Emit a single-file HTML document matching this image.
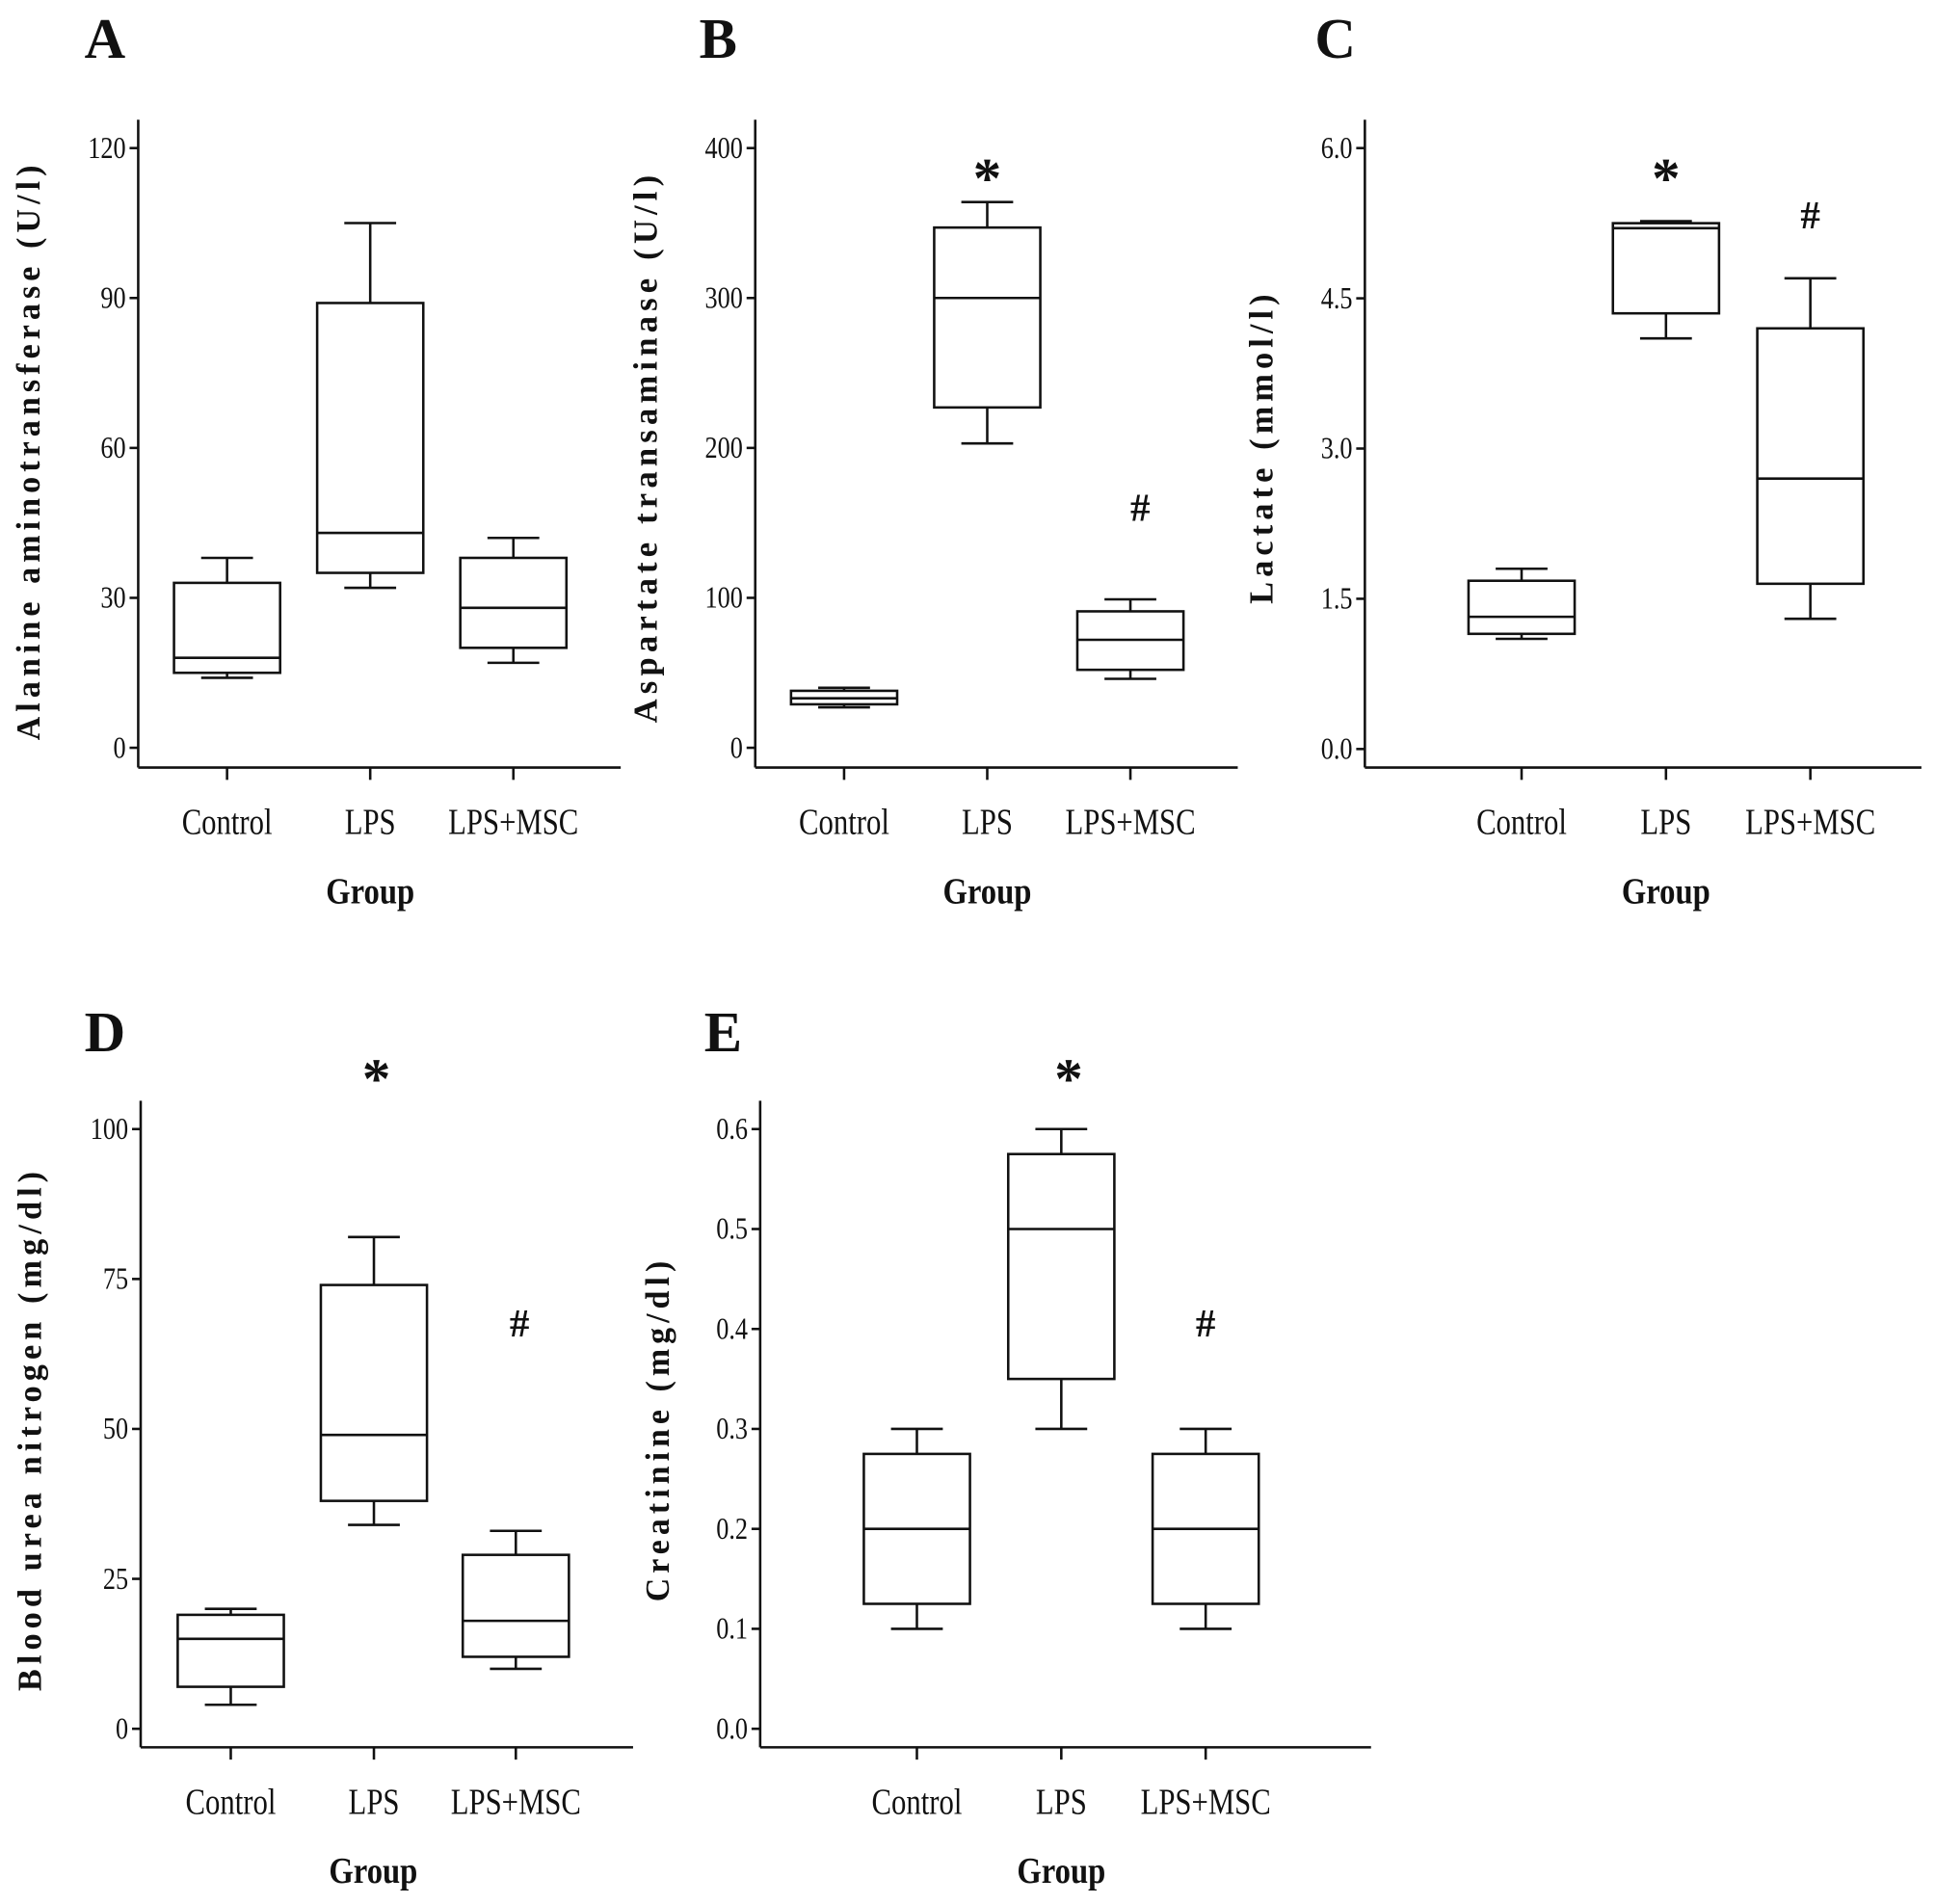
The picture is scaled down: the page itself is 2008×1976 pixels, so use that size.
<!DOCTYPE html>
<html><head><meta charset="utf-8">
<style>
html,body{margin:0;padding:0;background:#fff;}
svg{display:block;}
text{font-family:"Liberation Serif",serif;fill:#111;}
</style></head>
<body>
<svg id="fig" width="2008" height="1976" viewBox="0 0 1568 1543" xmlns="http://www.w3.org/2000/svg"></svg>
<script>
const categories = ["Control", "LPS", "LPS+MSC"];
// Panel A: ALT (U/l)
const aMin = [14, 32, 17];
const aQ1 = [15, 35, 20];
const aMed = [18, 43, 28];
const aQ3 = [33, 89, 38];
const aMax = [38, 105, 42];
const aTicks = [0, 30, 60, 90, 120];
// Panel B: AST (U/l)
const bMin = [27, 203, 46];
const bQ1 = [29, 227, 52];
const bMed = [33, 300, 72];
const bQ3 = [38, 347, 91];
const bMax = [40, 364, 99];
const bTicks = [0, 100, 200, 300, 400];
// Panel C: Lactate
const cMin = [1.1, 4.1, 1.3];
const cQ1 = [1.15, 4.35, 1.65];
const cMed = [1.32, 5.2, 2.7];
const cQ3 = [1.68, 5.25, 4.2];
const cMax = [1.8, 5.27, 4.7];
const cTicks = [0.0, 1.5, 3.0, 4.5, 6.0];
// Panel D: BUN
const dMin = [4, 34, 10];
const dQ1 = [7, 38, 12];
const dMed = [15, 49, 18];
const dQ3 = [19, 74, 29];
const dMax = [20, 82, 33];
const dTicks = [0, 25, 50, 75, 100];
// Panel E: Creatinine
const eMin = [0.1, 0.3, 0.1];
const eQ1 = [0.125, 0.35, 0.125];
const eMed = [0.2, 0.5, 0.2];
const eQ3 = [0.275, 0.575, 0.275];
const eMax = [0.3, 0.6, 0.3];
const eTicks = [0.0, 0.1, 0.2, 0.3, 0.4, 0.5, 0.6];

const NS = "http://www.w3.org/2000/svg";
const svg = document.getElementById("fig");
function mk(tag, attrs, parent, txt){
  const e = document.createElementNS(NS, tag);
  for (const k in attrs) e.setAttribute(k, attrs[k]);
  if (txt !== undefined) e.textContent = txt;
  (parent || svg).appendChild(e);
  return e;
}
function line(g, x1, y1, x2, y2){
  return mk("line", {x1, y1, x2, y2, stroke:"#111", "stroke-width":2}, g);
}

function panel(p){
  const g = mk("g", {});
  
  
  const yMin = p.ticks[0], yMax = p.ticks[p.ticks.length-1];
  const yS = v => p.y0 - (v - yMin) / (yMax - yMin) * (p.y0 - p.y1);
  const catX = p.catX;
  // panel letter
  const L = mk("text", {x:p.letterX, y:p.letterY, "font-size":46, "font-weight":"bold", "text-anchor":"middle"}, g, p.id);
  
  
  // axes
  const ya = line(g, p.ax, p.axTop, p.ax, p.axY);
  
  
  const xa = line(g, p.ax, p.axY, p.axRight, p.axY);
  
  
  // y ticks
  p.ticks.forEach(t => {
    const y = yS(t);
    line(g, p.ax - 7, y, p.ax, y);
    const lbl = mk("text", {x:p.ax - 10, y:y + 8, "font-size":25, "text-anchor":"end", transform:`translate(${p.ax-10},0) scale(0.82,1) translate(${-(p.ax-10)},0)`}, g, t.toFixed(p.dec));
    
    
  });
  // x ticks + labels
  categories.forEach((c, i) => {
    const x = catX[i];
    line(g, x, p.axY, x, p.axY + 10);
    const lbl = mk("text", {x:x, y:p.axY + 54, "font-size":30, "text-anchor":"middle", transform:`translate(${x},0) scale(0.8,1) translate(${-x},0)`}, g, c);
    
    
  });
  // x title
  const gx = mk("text", {x:(catX[0]+catX[2])/2, y:p.axY + 110, "font-size":30, "font-weight":"bold", "text-anchor":"middle", transform:`translate(${(catX[0]+catX[2])/2},0) scale(0.85,1) translate(${-(catX[0]+catX[2])/2},0)`}, g, "Group");
  
  
  // y title
  const ty = mk("text", {x:0, y:0, "font-size":27, "font-weight":"bold", "text-anchor":"middle", "letter-spacing":4, transform:`translate(${p.ytX},${p.ytY}) rotate(-90)`, textLength:p.ytLen, lengthAdjust:"spacingAndGlyphs"}, g, p.yTitle);
  
  
  // boxes
  const hw = 43, cap = 21;
  categories.forEach((c, i) => {
    const x = catX[i];
    const bg = mk("g", {}, g);
    
    
    line(bg, x, yS(p.max[i]), x, yS(p.q3[i]));
    line(bg, x, yS(p.min[i]), x, yS(p.q1[i]));
    line(bg, x - cap, yS(p.max[i]), x + cap, yS(p.max[i]));
    line(bg, x - cap, yS(p.min[i]), x + cap, yS(p.min[i]));
    mk("rect", {x:x-hw, y:yS(p.q3[i]), width:2*hw, height:yS(p.q1[i]) - yS(p.q3[i]), fill:"none", stroke:"#111", "stroke-width":2}, bg);
    line(bg, x - hw, yS(p.med[i]), x + hw, yS(p.med[i]));
  });
  (p.marks || []).forEach(m => {
    const t = mk("text", {x:m.x, y:m.y, "font-size":m.s === "*" ? 46 : 32, "font-weight":"bold", "text-anchor":"middle"}, g, m.s);
    
    
  });
}

panel({id:"A", letterX:85, letterY:47, ax:112, axTop:97, axY:622, axRight:503, y0:606, y1:120, ticks:aTicks, dec:0,
  catX:[184,300,416], min:aMin, q1:aQ1, med:aMed, q3:aQ3, max:aMax,
  yTitle:"Alanine aminotransferase (U/l)", ytX:32, ytY:365, ytLen:470, marks:[]});
panel({id:"B", letterX:582, letterY:47, ax:612, axTop:97, axY:622, axRight:1003, y0:606, y1:120, ticks:bTicks, dec:0,
  catX:[684,800,916], min:bMin, q1:bQ1, med:bMed, q3:bQ3, max:bMax,
  yTitle:"Aspartate transaminase (U/l)", ytX:532, ytY:362, ytLen:448, marks:[{s:"*",x:800,y:160},{s:"#",x:924,y:422}]});
panel({id:"C", letterX:1082, letterY:47, ax:1106, axTop:97, axY:622, axRight:1557, y0:607, y1:120, ticks:cTicks, dec:1,
  catX:[1233,1350,1467], min:cMin, q1:cQ1, med:cMed, q3:cQ3, max:cMax,
  yTitle:"Lactate (mmol/l)", ytX:1031, ytY:362, ytLen:255, marks:[{s:"*",x:1350,y:160},{s:"#",x:1467,y:185}]});
panel({id:"D", letterX:85, letterY:852, ax:114, axTop:892, axY:1416, axRight:513, y0:1401, y1:915, ticks:dTicks, dec:0,
  catX:[187,303,418], min:dMin, q1:dQ1, med:dMed, q3:dQ3, max:dMax,
  yTitle:"Blood urea nitrogen (mg/dl)", ytX:33, ytY:1158, ytLen:425, marks:[{s:"*",x:305,y:890},{s:"#",x:421,y:1083}]});
panel({id:"E", letterX:586, letterY:852, ax:616, axTop:892, axY:1416, axRight:1111, y0:1401, y1:915, ticks:eTicks, dec:1,
  catX:[743,860,977], min:eMin, q1:eQ1, med:eMed, q3:eQ3, max:eMax,
  yTitle:"Creatinine (mg/dl)", ytX:542, ytY:1158, ytLen:280, marks:[{s:"*",x:866,y:890},{s:"#",x:977,y:1083}]});
</script>
</body></html>
